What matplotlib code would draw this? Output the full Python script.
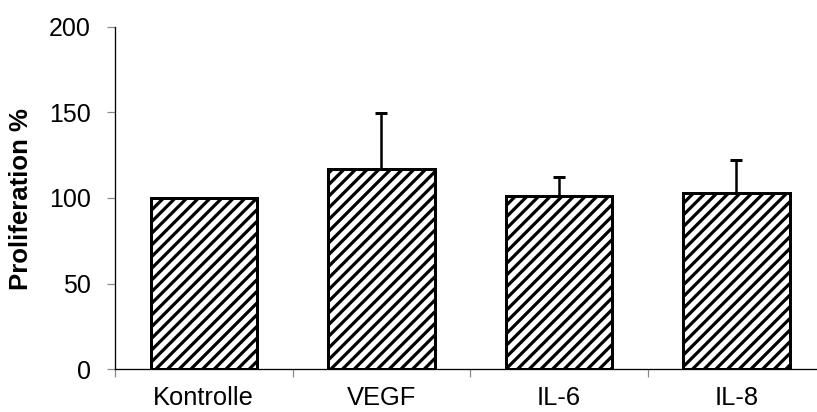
import matplotlib
matplotlib.use("Agg")
import matplotlib.pyplot as plt

# data
groups = ["Kontrolle", "VEGF", "IL-6", "IL-8"]
means = [100, 116.7, 101, 103]
err_up = [0, 32.7, 11.3, 19]

DPI = 70
W, H = 817, 412

def pt(px):
    # pixel size -> points at this dpi
    return px * 72.0 / DPI

plt.rcParams['font.family'] = ['Liberation Sans', 'DejaVu Sans']
plt.rcParams['hatch.linewidth'] = pt(3.2)
plt.rcParams['hatch.color'] = 'black'

fig = plt.figure(figsize=(W / DPI, H / DPI), dpi=DPI)
ax = fig.add_axes([115 / W, 1 - 369.3 / H, (825 - 115) / W, (369.3 - 26.5) / H])

x = list(range(len(groups)))
ax.bar(x, means, width=0.6, color='white', edgecolor='black',
       linewidth=pt(3), hatch='//', zorder=2)
ax.errorbar(x, means, yerr=[[0] * len(x), err_up], fmt='none',
            ecolor='black', elinewidth=pt(2.5), capsize=pt(6),
            capthick=pt(3), zorder=1)

ax.set_xlim(-0.5, 3.5)
ax.set_ylim(0, 200)
ax.set_yticks([0, 50, 100, 150, 200])
ax.set_xticks(x)
ax.set_xticklabels(groups)
ax.set_xticks([-0.5, 0.5, 1.5, 2.5, 3.5], minor=True)

for s in ['top', 'right']:
    ax.spines[s].set_visible(False)
for s in ['left', 'bottom']:
    ax.spines[s].set_linewidth(pt(1.3))
    ax.spines[s].set_color('black')

ax.tick_params(axis='y', length=pt(8), width=pt(1.2), color='#888888',
               labelsize=pt(25), pad=pt(16))
ax.tick_params(axis='x', which='major', length=0, labelsize=pt(25.5), pad=pt(17))
ax.tick_params(axis='x', which='minor', length=pt(8), width=pt(1.2), color='#888888')

ax.set_ylabel('Proliferation %', fontsize=pt(25.8), fontweight='bold')
# right edge of the rotated label sits about 33 px from the left border
ax.yaxis.set_label_coords(-(115 - 33) / (825 - 115), (369.3 - 199) / (369.3 - 26.5))

fig.savefig('out.png', dpi=DPI)
